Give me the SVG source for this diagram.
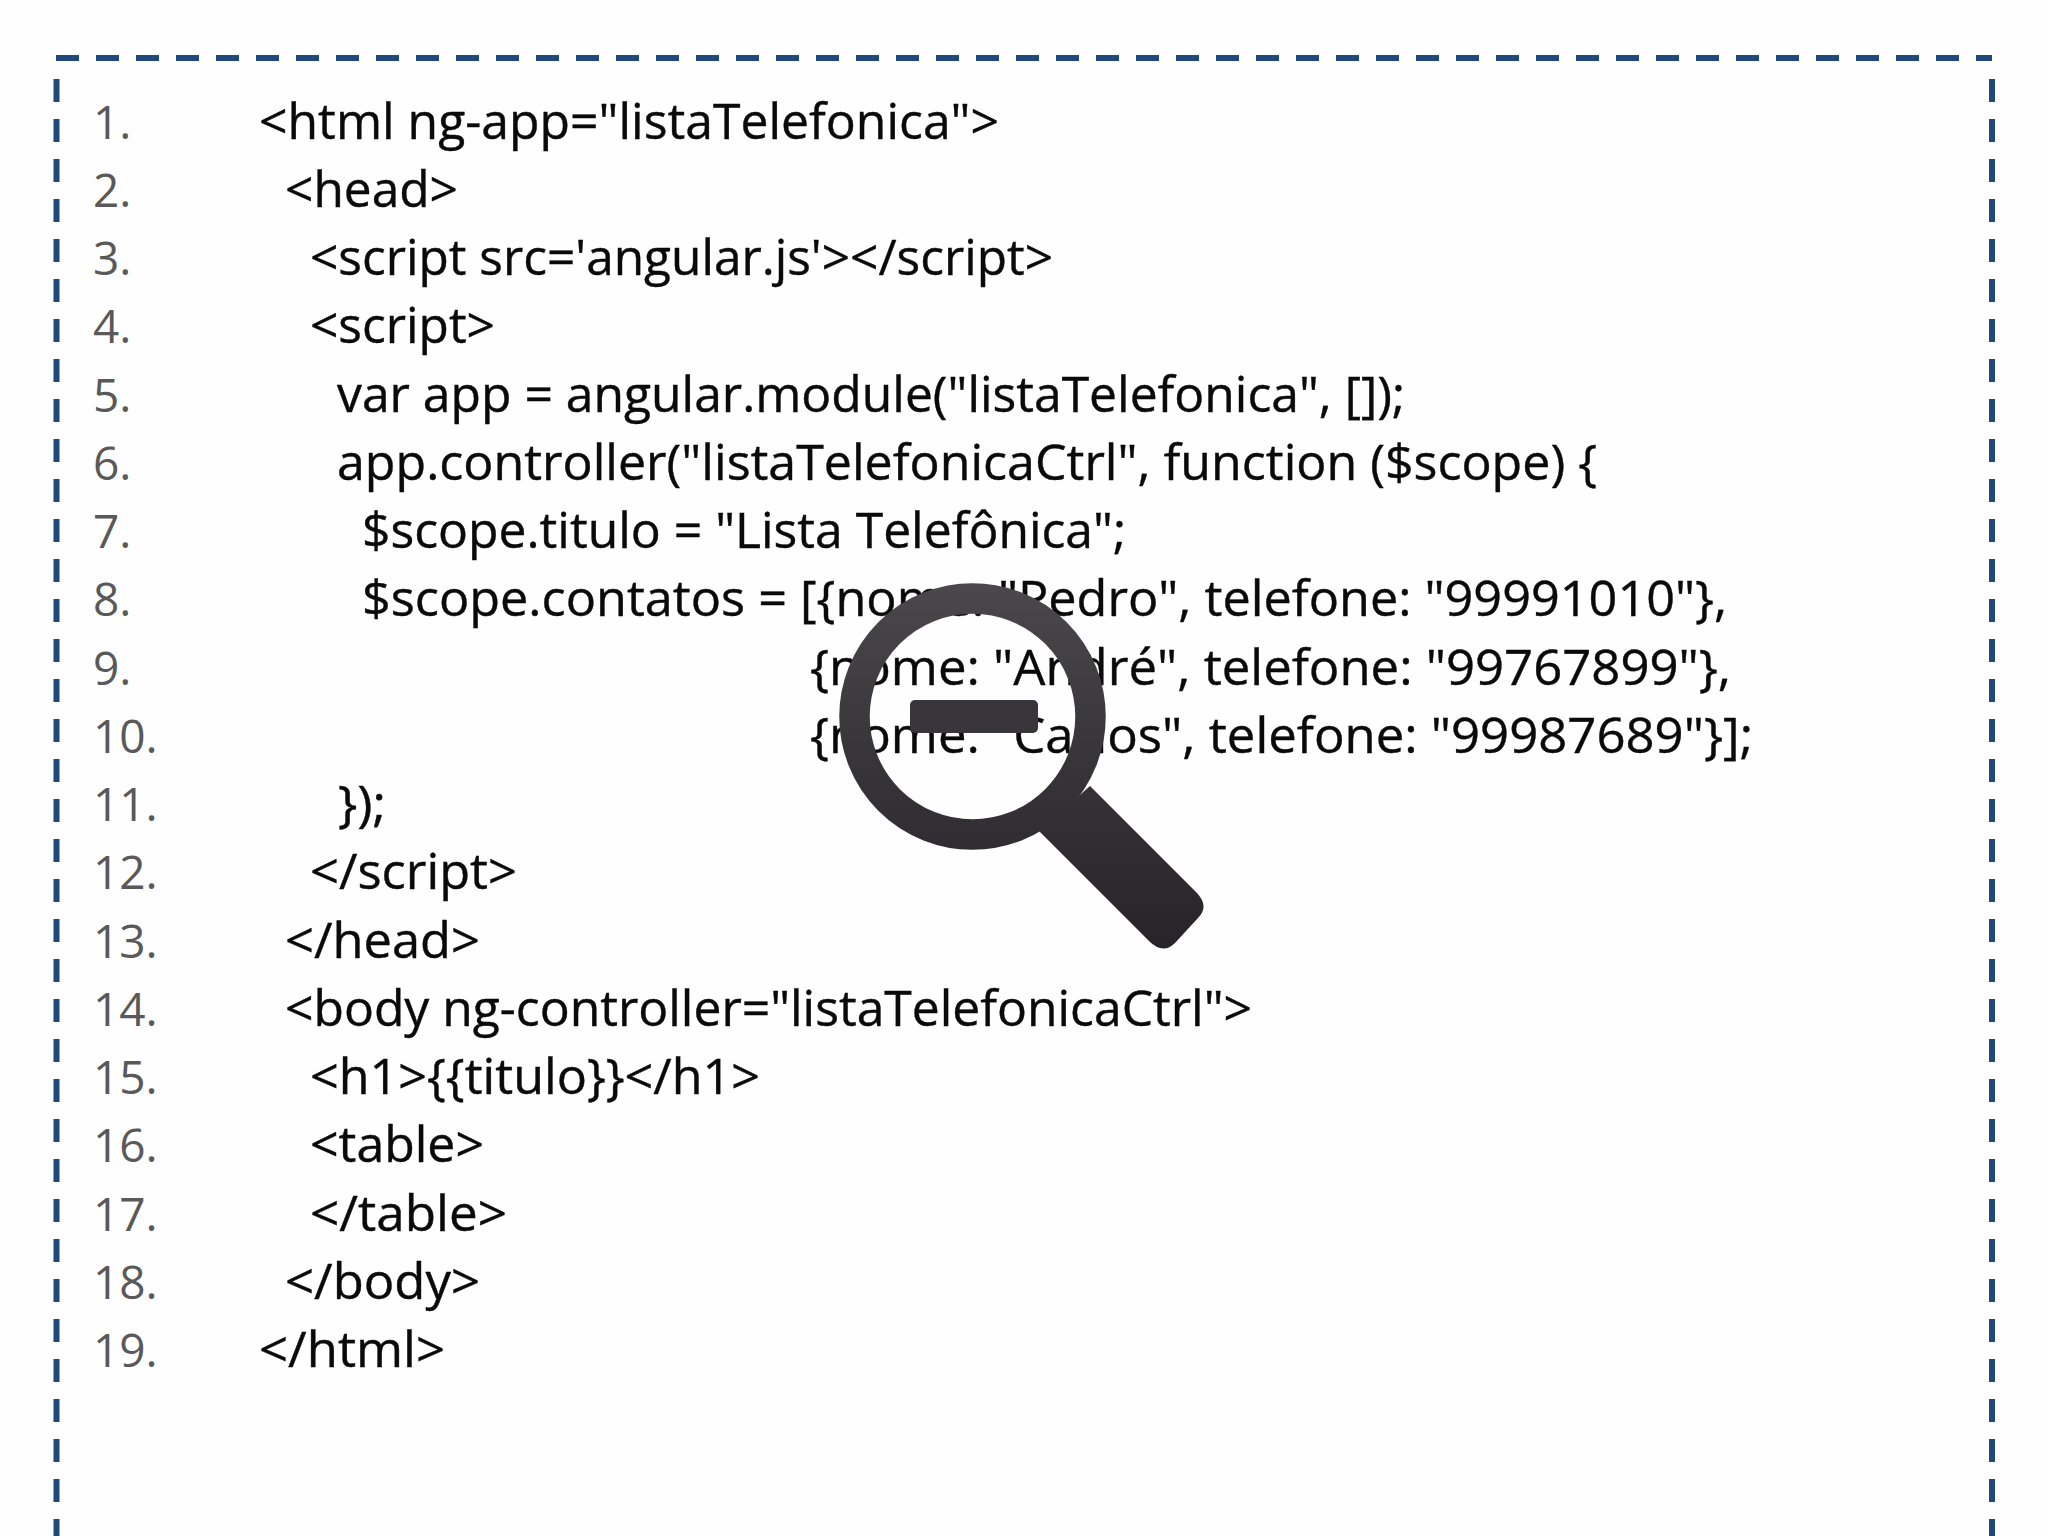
<svg xmlns="http://www.w3.org/2000/svg" width="2048" height="1536" viewBox="0 0 2048 1536">
<style>
.b{fill:none;stroke:#1f497d;stroke-width:6;stroke-dasharray:23 17}
.n{font-family:"Open Sans","Liberation Sans",sans-serif;font-size:46px;fill:#595959}
.c{font-family:"Open Sans","Liberation Sans",sans-serif;font-size:49px;fill:#0a0a0a;stroke:#0a0a0a;stroke-width:0.4}
</style>
<defs>
<linearGradient id="g" gradientUnits="userSpaceOnUse" x1="0" y1="583" x2="0" y2="950">
<stop offset="0" stop-color="#4b484c"/><stop offset="0.45" stop-color="#38363a"/><stop offset="1" stop-color="#262428"/>
</linearGradient>
</defs>
<rect width="2048" height="1536" fill="#fefefe"/>
<g id="border">
<path class="b" d="M56 58H1992"/>
<path class="b" d="M56.500 79V1536"/>
<path class="b" d="M1992 79V1536"/>
</g>
<g id="line-numbers">
<text class="n" x="93" y="138.500">1.</text>
<text class="n" x="93" y="206.800">2.</text>
<text class="n" x="93" y="275">3.</text>
<text class="n" x="93" y="343.300">4.</text>
<text class="n" x="93" y="411.500">5.</text>
<text class="n" x="93" y="479.800">6.</text>
<text class="n" x="93" y="548.100">7.</text>
<text class="n" x="93" y="616.300">8.</text>
<text class="n" x="93" y="684.600">9.</text>
<text class="n" x="93" y="752.800">10.</text>
<text class="n" x="93" y="821.100">11.</text>
<text class="n" x="93" y="889.400">12.</text>
<text class="n" x="93" y="957.600">13.</text>
<text class="n" x="93" y="1025.900">14.</text>
<text class="n" x="93" y="1094.100">15.</text>
<text class="n" x="93" y="1162.400">16.</text>
<text class="n" x="93" y="1230.700">17.</text>
<text class="n" x="93" y="1298.900">18.</text>
<text class="n" x="93" y="1367.200">19.</text>
</g>
<g id="code">
<text class="c" lengthAdjust="spacingAndGlyphs" x="259" y="138.500" textLength="740">&lt;html ng-app="listaTelefonica"&gt;</text>
<text class="c" lengthAdjust="spacingAndGlyphs" x="285" y="206.800" textLength="173">&lt;head&gt;</text>
<text class="c" lengthAdjust="spacingAndGlyphs" x="310" y="275" textLength="743">&lt;script src='angular.js'&gt;&lt;/script&gt;</text>
<text class="c" lengthAdjust="spacingAndGlyphs" x="310" y="343.300" textLength="185">&lt;script&gt;</text>
<text class="c" lengthAdjust="spacingAndGlyphs" x="337" y="411.500" textLength="1068">var app = angular.module("listaTelefonica", []);</text>
<text class="c" lengthAdjust="spacingAndGlyphs" x="337" y="479.800" textLength="1260">app.controller("listaTelefonicaCtrl", function ($scope) {</text>
<text class="c" lengthAdjust="spacingAndGlyphs" x="362" y="548.100" textLength="764">$scope.titulo = "Lista Telefônica";</text>
<text class="c" lengthAdjust="spacingAndGlyphs" x="362" y="616.300" textLength="1365"><tspan>$scope.contatos = [{nome: "Pedro", telefone: "99991010"},</tspan></text>
<text class="c" lengthAdjust="spacingAndGlyphs" x="810" y="684.600" textLength="921">{nome: "André", telefone: "99767899"},</text>
<text class="c" lengthAdjust="spacingAndGlyphs" x="810" y="752.800" textLength="943">{nome: "Carlos", telefone: "99987689"}];</text>
<text class="c" lengthAdjust="spacingAndGlyphs" x="338" y="821.100" textLength="48">});</text>
<text class="c" lengthAdjust="spacingAndGlyphs" x="310" y="889.400" textLength="207">&lt;/script&gt;</text>
<text class="c" lengthAdjust="spacingAndGlyphs" x="285" y="957.600" textLength="195">&lt;/head&gt;</text>
<text class="c" lengthAdjust="spacingAndGlyphs" x="285" y="1025.900" textLength="967">&lt;body ng-controller="listaTelefonicaCtrl"&gt;</text>
<text class="c" lengthAdjust="spacingAndGlyphs" x="310" y="1094.100" textLength="450">&lt;h1&gt;{{titulo}}&lt;/h1&gt;</text>
<text class="c" lengthAdjust="spacingAndGlyphs" x="310" y="1162.400" textLength="174">&lt;table&gt;</text>
<text class="c" lengthAdjust="spacingAndGlyphs" x="310" y="1230.700" textLength="197">&lt;/table&gt;</text>
<text class="c" lengthAdjust="spacingAndGlyphs" x="285" y="1298.900" textLength="195">&lt;/body&gt;</text>
<text class="c" lengthAdjust="spacingAndGlyphs" x="259" y="1367.200" textLength="186">&lt;/html&gt;</text>
</g>
<g id="magnifier">
<circle cx="972.500" cy="716.500" r="118" fill="none" stroke="url(#g)" stroke-width="30.500"/>
<path fill="url(#g)" d="M1090 786L1196 892Q1210 906 1198 918L1175 943Q1163 955 1149 941L1039 831Z"/>
<rect x="910" y="700" width="128" height="33" rx="5" fill="#38363a"/>
</g>
</svg>
